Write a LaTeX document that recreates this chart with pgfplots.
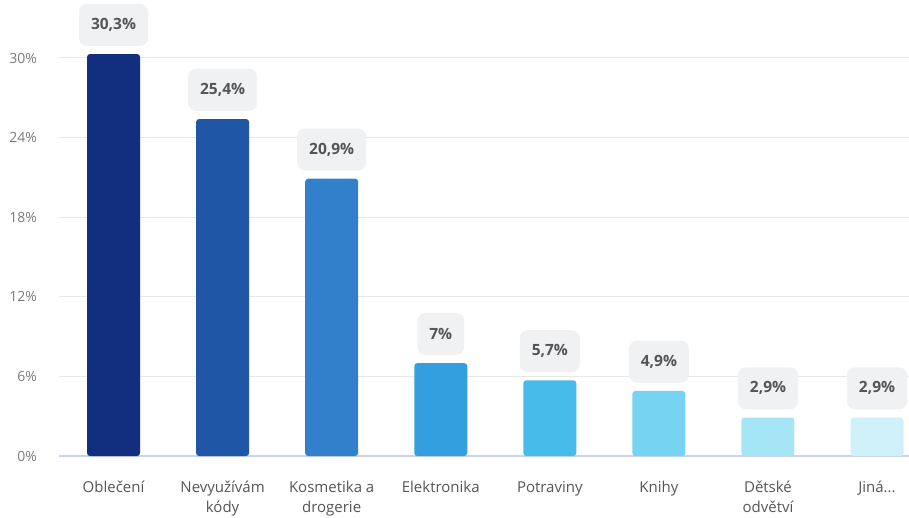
\documentclass[border=0pt]{standalone}
\usepackage{fontspec}
\setmainfont{Open Sans}
\usepackage{pgfplots}
\pgfplotsset{compat=1.18}

\definecolor{c1}{HTML}{122E7E}
\definecolor{c2}{HTML}{1F57A6}
\definecolor{c3}{HTML}{327FCB}
\definecolor{c4}{HTML}{349FDF}
\definecolor{c5}{HTML}{47BBE9}
\definecolor{c6}{HTML}{77D3F2}
\definecolor{c7}{HTML}{A6E5F5}
\definecolor{c8}{HTML}{CFF2FA}
\definecolor{gridc}{HTML}{E6E7EA}
\definecolor{basec}{HTML}{CBD2EC}
\definecolor{tickc}{HTML}{7A7A7A}
\definecolor{labc}{HTML}{555555}
\definecolor{boxc}{HTML}{F0F1F2}

\pgfplotsset{bar/.style={fill=#1, draw=none, bar shift=0pt, rounded corners=3pt}}

\begin{document}
\begin{tikzpicture}
\begin{axis}[
  scale only axis, width=850pt, height=398pt,
  xmin=-0.5, xmax=7.293, ymin=0, ymax=30,
  ybar, bar width=53pt,
  clip=false,
  axis line style={draw=none},
  major tick length=0pt,
  /pgf/number format/assume math mode=true,
  ytick={0,6,12,18,24,30},
  yticklabel={\pgfmathprintnumber{\tick}\%},
  yticklabel style={font=\fontsize{14}{16}\selectfont, text=tickc, anchor=east, inner sep=0pt, xshift=-22pt},
  ymajorgrids, grid style={gridc, line width=1pt},
  extra y ticks={0}, extra y tick labels={},
  extra y tick style={grid style={basec, line width=1.2pt}},
  xtick={0,...,7},
  xticklabels={Oblečení, Nevyužívám\\kódy, Kosmetika a\\drogerie, Elektronika, Potraviny, Knihy, Dětské\\odvětví, Jiná.{}.{}.},
  xticklabel style={font=\fontsize{15}{20}\selectfont, text=labc, align=center, anchor=north, inner sep=0pt, yshift=-25pt},
  nodes near coords, point meta=explicit symbolic,
  nodes near coords style={font=\fontsize{15.5}{18}\selectfont\bfseries, text=labc, fill=boxc, rounded corners=8pt, minimum height=42pt, inner xsep=12pt, anchor=south, yshift=8pt},
]
\addplot[bar=c1] coordinates {(0,30.3) [30,3\%]};
\addplot[bar=c2] coordinates {(1,25.4) [25,4\%]};
\addplot[bar=c3] coordinates {(2,20.9) [20,9\%]};
\addplot[bar=c4] coordinates {(3,7) [7\%]};
\addplot[bar=c5] coordinates {(4,5.7) [5,7\%]};
\addplot[bar=c6] coordinates {(5,4.9) [4,9\%]};
\addplot[bar=c7] coordinates {(6,2.9) [2,9\%]};
\addplot[bar=c8] coordinates {(7,2.9) [2,9\%]};
\end{axis}
\pgfresetboundingbox
\path[use as bounding box] (-59pt,-61pt) rectangle (850pt,456pt);
\end{tikzpicture}
\end{document}
